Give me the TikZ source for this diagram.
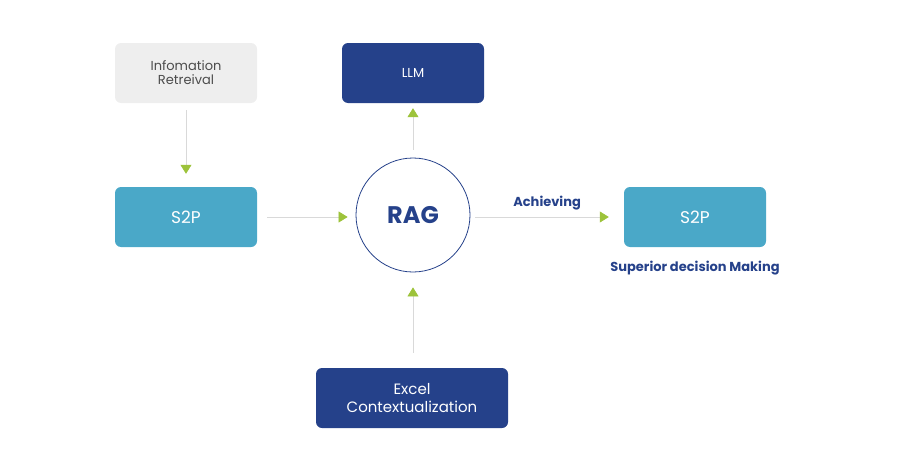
\documentclass[tikz,border=0pt]{standalone}
\usepackage{fontspec}
\setmainfont{Poppins}
\usetikzlibrary{arrows.meta,positioning}
\definecolor{navy}{HTML}{25418A}
\definecolor{teal}{HTML}{4AA8C8}
\definecolor{lime}{HTML}{9DC33B}
\definecolor{soft}{HTML}{EEEEEE}

\begin{document}
\begin{tikzpicture}[
    x=1pt, y=-1pt,
    box/.style={rounded corners=6pt, minimum width=142pt, minimum height=60pt, align=center, inner sep=0pt},
    darkbox/.style={box, fill=navy, text=white, font=\fontsize{13}{15}\selectfont},
    lightbox/.style={box, fill=teal, text=white, font=\fontsize{17}{20}\selectfont},
    link/.style={draw=black!15, line width=0.6pt, -{Triangle[length=9pt,width=11pt,fill=lime,color=lime]}}
]
\useasboundingbox (0,0) rectangle (900,471);

% Nodes
\node[box, fill=soft, text=black!70, font=\fontsize{13}{14}\selectfont] (info) at (186,73) {Infomation\\Retreival};
\node[darkbox] (llm) at (413,73) {LLM};
\node[lightbox] (s2pin) at (186,217) {S2P};
\node[circle, draw=navy, line width=0.8pt, minimum size=114pt, text=navy, font=\bfseries\fontsize{24}{26}\selectfont] (rag) at (413,215) {RAG};
\node[lightbox] (s2pout) at (695,217) {S2P};
\node[darkbox, minimum width=192pt, font=\fontsize{15}{18}\selectfont] (excel) at (412,398) {Excel\\Contextualization};
\node[text=navy, font=\bfseries\fontsize{13}{15}\selectfont] (goal) at (695,268) {Superior decision Making};

% Connectors
\draw[link, shorten <=7pt, shorten >=13pt] (info) -- (s2pin);
\draw[link, shorten <=8pt, shorten >=5pt] (rag.north -| llm) -- (llm.south);
\draw[link, shorten <=10pt, shorten >=8pt] (s2pin) -- (rag.west |- s2pin);
\draw[link, shorten <=5pt, shorten >=15pt] (rag.east |- s2pout) -- node[above=3pt, text=navy, font=\bfseries\fontsize{13}{15}\selectfont] (ach) {Achieving} (s2pout);
\draw[link, shorten <=15pt, shorten >=15pt] (excel.north -| rag) -- (rag.south);
\end{tikzpicture}
\end{document}
